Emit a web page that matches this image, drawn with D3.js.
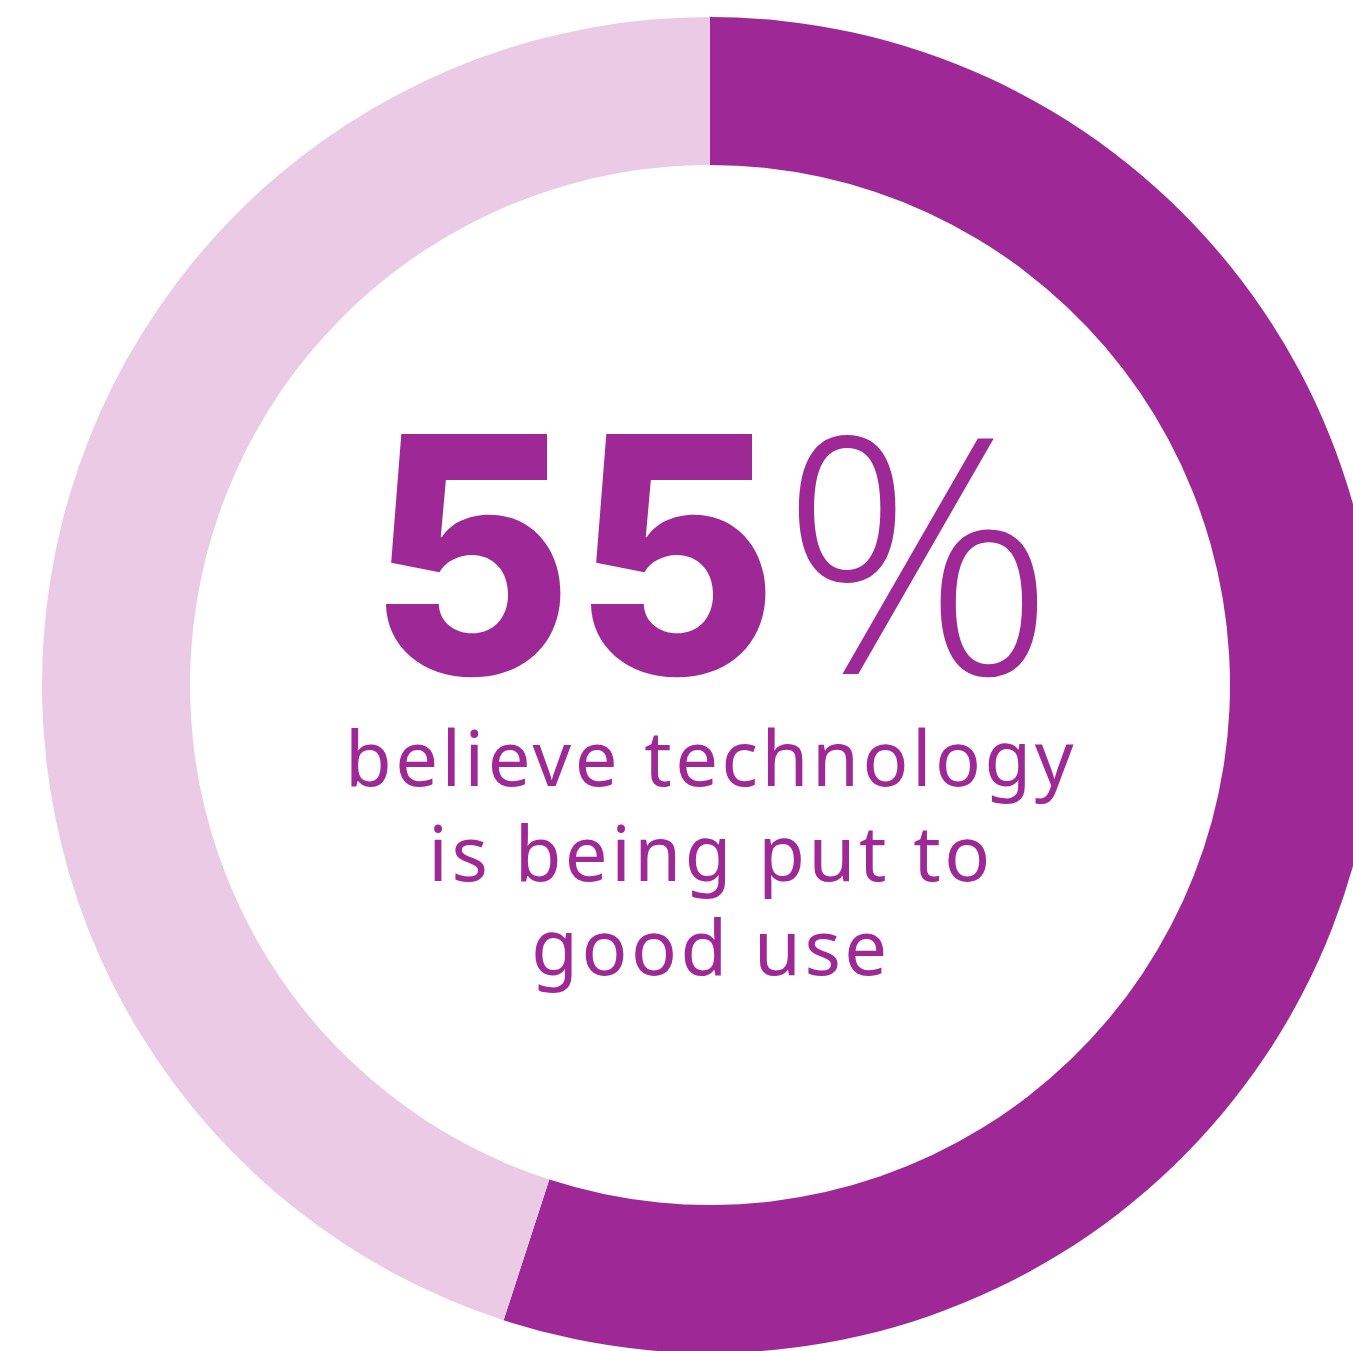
<!DOCTYPE html>
<html>
<head>
<meta charset="utf-8">
<script src="https://cdn.jsdelivr.net/npm/d3@7"></script>
<style>
  html, body { margin: 0; padding: 0; background: #ffffff; }
  svg { display: block; }
</style>
</head>
<body>
<svg id="chart" width="1353" height="1351"></svg>
<script>
// Share of respondents: agree vs. the rest
const categories = ["Believe technology is put to good use", "Other"];
const values = [55, 45];
const colors = ["#9E2896", "#EBCAE6"];
const captionLines = ["believe technology", "is being put to", "good use"];

const width = 1353, height = 1351;
const cx = 710, cy = 685;
const outerR = 668, innerR = 520;

const svg = d3.select("#chart");
svg.append("rect").attr("width", width).attr("height", height).attr("fill", "#ffffff");

const g = svg.append("g").attr("transform", `translate(${cx},${cy})`);

const pie = d3.pie().sort(null).value(d => d.value).startAngle(0).endAngle(2 * Math.PI);
const arc = d3.arc().innerRadius(innerR).outerRadius(outerR);
const color = d3.scaleOrdinal().domain(categories).range(colors);

const data = categories.map((c, i) => ({ category: c, value: values[i] }));

g.selectAll("path.slice")
  .data(pie(data))
  .join("path")
  .attr("class", "slice")
  .attr("d", arc)
  .attr("fill", d => color(d.data.category));

// Headline figure: heavy number, light percent sign
const headColor = colors[0];
g.append("text")
  .attr("x", 68)
  .attr("y", -11)
  .attr("text-anchor", "end")
  .attr("font-family", "Inter, 'Noto Sans', sans-serif")
  .attr("font-weight", 800)
  .attr("font-size", 330)
  .attr("fill", headColor)
  .attr("textLength", 410)
  .attr("lengthAdjust", "spacingAndGlyphs")
  .text(values[0]);

g.append("text")
  .attr("x", 70)
  .attr("y", -11)
  .attr("text-anchor", "start")
  .attr("font-family", "'Open Sans', 'Noto Sans', sans-serif")
  .attr("font-weight", 300)
  .attr("font-size", 330)
  .attr("fill", headColor)
  .attr("textLength", 276)
  .attr("lengthAdjust", "spacingAndGlyphs")
  .text("%");

// Caption beneath the figure
const lineBase = [101, 196, 290];
g.selectAll("text.caption")
  .data(captionLines)
  .join("text")
  .attr("class", "caption")
  .attr("x", 1)
  .attr("y", (d, i) => lineBase[i])
  .attr("text-anchor", "middle")
  .attr("font-family", "'Noto Sans', 'Open Sans', sans-serif")
  .attr("font-weight", 400)
  .attr("font-size", 76)
  .attr("letter-spacing", 3.5)
  .attr("fill", headColor)
  .text(d => d);
</script>
</body>
</html>
